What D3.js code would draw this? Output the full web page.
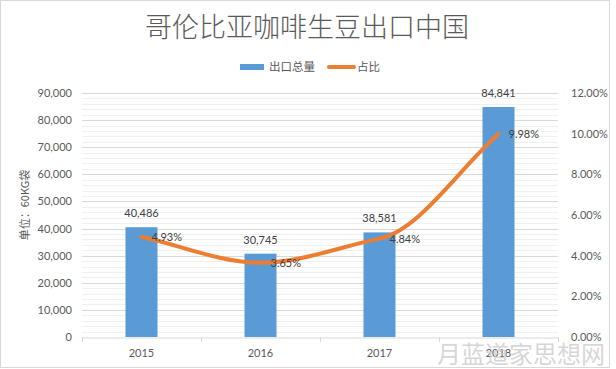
<!DOCTYPE html>
<html><head><meta charset="utf-8">
<script src="https://cdn.jsdelivr.net/npm/d3@7"></script>
<style>body{margin:0;background:#fff}svg{display:block}</style>
</head><body>
<svg id="c" width="616" height="369"></svg>
<script>
const title = "哥伦比亚咖啡生豆出口中国";
const categories = ["2015", "2016", "2017", "2018"];
const exportVolume = [40486, 30745, 38581, 84841];
const share = [4.93, 3.65, 4.84, 9.98];
const leftTicks = [0, 10000, 20000, 30000, 40000, 50000, 60000, 70000, 80000, 90000];
const rightTicks = [0, 2, 4, 6, 8, 10, 12];
const seriesNames = ["出口总量", "占比"];
const yTitle = "单位：60KG袋";
const watermark = "月蓝道家思想网";

const svg = d3.select("#c");
const W = 616, H = 369;
const m = {l: 82, r: 58, t: 93, b: 32};
const numFont = "Lato, 'Noto Sans CJK SC', sans-serif";
const cjkFont = "'Noto Sans CJK SC', sans-serif";

// smooth curve similar to spreadsheet smoothing (tangent limited by neighbouring chords)
function smoothCurve(context) {
  let pts = [];
  return {
    areaStart() {}, areaEnd() {},
    lineStart() { pts = []; },
    point(x, y) { pts.push([+x, +y]); },
    lineEnd() {
      const n = pts.length;
      if (!n) return;
      context.moveTo(pts[0][0], pts[0][1]);
      if (n === 1) return;
      const s = [];
      for (let i = 0; i < n - 1; i++) s.push((pts[i + 1][1] - pts[i][1]) / (pts[i + 1][0] - pts[i][0]));
      const t = new Array(n).fill(0);
      for (let i = 1; i < n - 1; i++) {
        t[i] = s[i - 1] * s[i] <= 0 ? 0 : Math.sign(s[i]) * Math.min(Math.abs(s[i - 1]), Math.abs(s[i]));
      }
      t[0] = s[0];
      t[n - 1] = s[n - 2];
      for (let i = 0; i < n - 1; i++) {
        const [x0, y0] = pts[i], [x1, y1] = pts[i + 1], dx = (x1 - x0) / 3;
        context.bezierCurveTo(x0 + dx, y0 + t[i] * dx, x1 - dx, y1 - t[i + 1] * dx, x1, y1);
      }
    }
  };
}

svg.append("rect").attr("x", 0.5).attr("y", 0.5).attr("width", 609).attr("height", 367)
  .attr("fill", "#fff").attr("stroke", "#d9d9d9");

const x = d3.scaleBand().domain(categories).range([m.l, W - m.r]);
const yL = d3.scaleLinear().domain([0, 90000]).range([H - m.b, m.t]);
const yR = d3.scaleLinear().domain([0, 12]).range([H - m.b, m.t]);

// minor gridlines
const minor = d3.range(0, 90001, 2000).filter(v => v % 10000 !== 0);
svg.append("g").selectAll("line").data(minor).join("line")
  .attr("x1", m.l).attr("x2", W - m.r)
  .attr("y1", d => Math.round(yL(d)) + 0.5).attr("y2", d => Math.round(yL(d)) + 0.5)
  .attr("stroke", "#f0f0f0").attr("stroke-width", 1);
// major gridlines
svg.append("g").selectAll("line").data(leftTicks.filter(d => d > 0)).join("line")
  .attr("x1", m.l).attr("x2", W - m.r)
  .attr("y1", d => Math.round(yL(d)) + 0.5).attr("y2", d => Math.round(yL(d)) + 0.5)
  .attr("stroke", "#d9d9d9").attr("stroke-width", 1);

// bars
const bw = 32;
svg.append("g").selectAll("rect").data(exportVolume).join("rect")
  .attr("x", (d, i) => x(categories[i]) + x.bandwidth() / 2 - bw / 2)
  .attr("width", bw)
  .attr("y", d => yL(d))
  .attr("height", d => yL(0) - yL(d))
  .attr("fill", "#5b9bd5");

// x axis
const xAxis = d3.axisBottom(x).tickSize(0).tickPadding(12);
const gx = svg.append("g").attr("transform", `translate(0,${yL(0) + 0.5})`).call(xAxis);
gx.select(".domain").attr("stroke", "#d9d9d9");
gx.selectAll("text").attr("font-family", numFont).attr("font-size", 11).attr("fill", "#595959");
// boundary ticks
const bounds = categories.map(c => x(c)).concat([x.range()[1]]);
svg.append("g").selectAll("line").data(bounds).join("line")
  .attr("x1", d => Math.round(d) + 0.5).attr("x2", d => Math.round(d) + 0.5)
  .attr("y1", yL(0)).attr("y2", yL(0) + 5).attr("stroke", "#d9d9d9");

// left axis
const gl = svg.append("g").attr("transform", `translate(${m.l - 10},0)`)
  .call(d3.axisLeft(yL).tickValues(leftTicks).tickSize(0).tickPadding(0).tickFormat(d3.format(",")));
gl.select(".domain").remove();
gl.selectAll("text").attr("font-family", numFont).attr("font-size", 11).attr("fill", "#595959");

// right axis
const gr = svg.append("g").attr("transform", `translate(${W - m.r + 13},0)`)
  .call(d3.axisRight(yR).tickValues(rightTicks).tickSize(0).tickPadding(0).tickFormat(d => d.toFixed(2) + "%"));
gr.select(".domain").remove();
gr.selectAll("text").attr("font-family", numFont).attr("font-size", 11).attr("fill", "#595959");

// y title
svg.append("text").attr("transform", `translate(29,205) rotate(-90)`)
  .attr("text-anchor", "middle").attr("font-family", cjkFont).attr("font-size", 11)
  .attr("fill", "#595959").text(yTitle);

// line
const pts = share.map((v, i) => [x(categories[i]) + x.bandwidth() / 2, yR(v)]);
svg.append("path").attr("d", d3.line().curve(smoothCurve)(pts))
  .attr("fill", "none").attr("stroke", "#ed7d31").attr("stroke-width", 4)
  .attr("stroke-linecap", "round").attr("stroke-linejoin", "round");

// bar labels
svg.append("g").selectAll("text").data(exportVolume).join("text")
  .attr("x", (d, i) => x(categories[i]) + x.bandwidth() / 2)
  .attr("y", d => yL(d) - 10)
  .attr("text-anchor", "middle").attr("font-family", numFont).attr("font-size", 11)
  .attr("fill", "#404040").text(d => d3.format(",")(d));

// line labels
svg.append("g").selectAll("text").data(share).join("text")
  .attr("x", (d, i) => pts[i][0] + 10)
  .attr("y", (d, i) => pts[i][1] + 4)
  .attr("font-family", numFont).attr("font-size", 11)
  .attr("fill", "#404040").text(d => d.toFixed(2) + "%");

// title
svg.append("text").attr("x", 307).attr("y", 37).attr("text-anchor", "middle")
  .attr("font-family", cjkFont).attr("font-size", 27).attr("font-weight", 300)
  .attr("fill", "#595959").text(title);

// legend
const lg = svg.append("g");
lg.append("rect").attr("x", 240).attr("y", 64).attr("width", 24).attr("height", 6).attr("fill", "#5b9bd5");
lg.append("text").attr("x", 269).attr("y", 71).attr("font-family", cjkFont).attr("font-size", 11.5)
  .attr("fill", "#595959").text(seriesNames[0]);
lg.append("line").attr("x1", 329).attr("x2", 354).attr("y1", 67).attr("y2", 67)
  .attr("stroke", "#ed7d31").attr("stroke-width", 4).attr("stroke-linecap", "round");
lg.append("text").attr("x", 357).attr("y", 71).attr("font-family", cjkFont).attr("font-size", 11.5)
  .attr("fill", "#595959").text(seriesNames[1]);

// watermark
svg.append("text").attr("x", 437).attr("y", 363).attr("font-family", cjkFont).attr("font-size", 24)
  .attr("fill", "#cfcfcf").attr("fill-opacity", 0.85).text(watermark);
</script>
</body></html>
